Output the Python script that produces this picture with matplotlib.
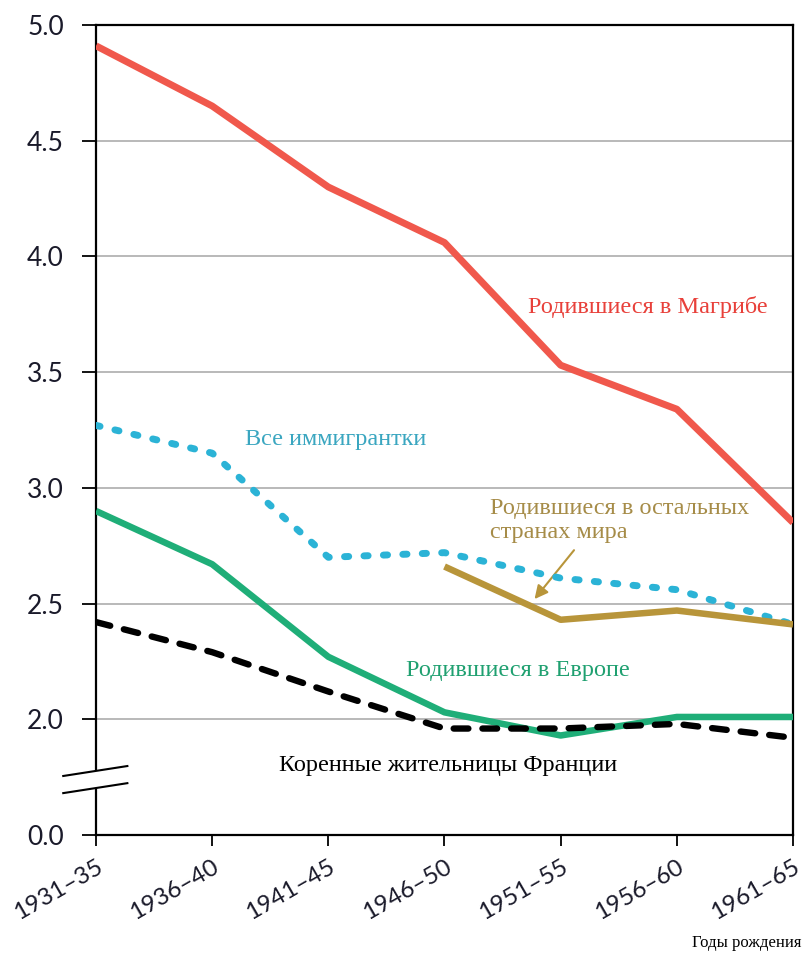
import matplotlib
matplotlib.use("Agg")
import matplotlib.pyplot as plt
from matplotlib.lines import Line2D
from matplotlib.transforms import ScaledTranslation
import numpy as np

categories = ["1931–35", "1936–40", "1941–45", "1946–50", "1951–55", "1956–60", "1961–65"]
maghreb = [4.91, 4.65, 4.30, 4.06, 3.53, 3.34, 2.85]
all_immigrants = [3.27, 3.15, 2.70, 2.72, 2.61, 2.56, 2.41]
europe = [2.90, 2.67, 2.27, 2.03, 1.93, 2.01, 2.01]
native = [2.42, 2.29, 2.12, 1.96, 1.96, 1.98, 1.92]
rest_world_cats = ["1946–50", "1951–55", "1956–60", "1961–65"]
rest_world = [2.66, 2.43, 2.47, 2.41]
ytick_vals = [1.5, 2.0, 2.5, 3.0, 3.5, 4.0, 4.5, 5.0]
ytick_labels = ["0.0", "2.0", "2.5", "3.0", "3.5", "4.0", "4.5", "5.0"]

RED = "#f0584c"
CYAN = "#2bb3d6"
GREEN = "#1fae78"
GOLD = "#b8953a"

fig = plt.figure(figsize=(8.03, 9.56), dpi=100)
ax = fig.add_axes([96/803, 1-835/956, (793-96)/803, (835-25)/956])

x = np.arange(len(categories))
xr = np.array([categories.index(c) for c in rest_world_cats])

ax.plot(x, maghreb, color=RED, lw=5, solid_capstyle="butt", zorder=5)
ax.plot(x, all_immigrants, color=CYAN, lw=5, linestyle=(0, (0.6, 2.2)),
        dash_capstyle="round", zorder=4)
ax.plot(x, europe, color=GREEN, lw=4.7, solid_capstyle="butt", zorder=3)
ax.plot(x, native, color="black", lw=4.6, linestyle=(0, (2.3, 2.2)),
        dash_capstyle="round", zorder=3)
ax.plot(xr, rest_world, color=GOLD, lw=4.7, solid_capstyle="butt", zorder=4)

ax.set_xlim(0, len(categories) - 1)
ax.set_ylim(1.5, 5.0)
ax.set_yticks(ytick_vals)
ax.set_yticklabels(ytick_labels, fontfamily="Lato", fontsize=19, color="#1a1a2a")
ax.set_xticks(x)
ax.set_xticklabels(categories, fontfamily="Lato", fontsize=17.5, color="#1a1a2a",
                   rotation=30, ha="right", va="top", rotation_mode="anchor")
off = ScaledTranslation(5/100, 0, fig.dpi_scale_trans)
for lab in ax.get_xticklabels():
    lab.set_transform(lab.get_transform() + off)
ax.tick_params(axis="y", direction="out", length=10, width=1.3, pad=13)
ax.tick_params(axis="x", direction="out", length=8, width=1.3, pad=7)
for y in [2.0, 2.5, 3.0, 3.5, 4.0, 4.5]:
    ax.axhline(y, color="#a6a6a6", lw=1.1, zorder=1)
for s in ax.spines.values():
    s.set_linewidth(1.6)
    s.set_color("black")

# axis break
tr = ax.get_yaxis_transform()
ax.add_patch(plt.Rectangle((-0.02, 1.705), 0.04, 0.07, transform=tr,
                           facecolor="white", edgecolor="none", clip_on=False, zorder=6))
for (y0, y1) in [(1.755, 1.798), (1.681, 1.724)]:
    ax.add_line(Line2D([-0.047, 0.045], [y0, y1], transform=tr, color="black", lw=1.5,
                       clip_on=False, zorder=7))

serif = "Liberation Serif"
fs = 17.5
ax.text(4.75, 3.78, "Родившиеся в Магрибе", color="#e8403a", fontsize=fs,
        family=serif, ha="center", va="center")
ax.text(2.06, 3.21, "Все иммигрантки", color="#3aa6c0", fontsize=fs, family=serif,
        ha="center", va="center")
ax.text(3.39, 2.86, "Родившиеся в остальных\nстранах мира", color="#a68c48", fontsize=fs,
        family=serif, ha="left", va="center", linespacing=1.2)
ax.annotate("", xy=(3.76, 2.51), xytext=(4.13, 2.74),
            arrowprops=dict(arrowstyle="-|>", color=GOLD, lw=1.5, mutation_scale=20))
ax.text(3.63, 2.21, "Родившиеся в Европе", color="#1fa070", fontsize=fs, family=serif,
        ha="center", va="center")
ax.text(3.03, 1.80, "Коренные жительницы Франции", color="black", fontsize=fs, family=serif,
        ha="center", va="center")
fig.text(802/803, 1-943/956, "Годы рождения", color="black", fontsize=12, family=serif,
         ha="right", va="center")

fig.savefig("out.png", dpi=100)
